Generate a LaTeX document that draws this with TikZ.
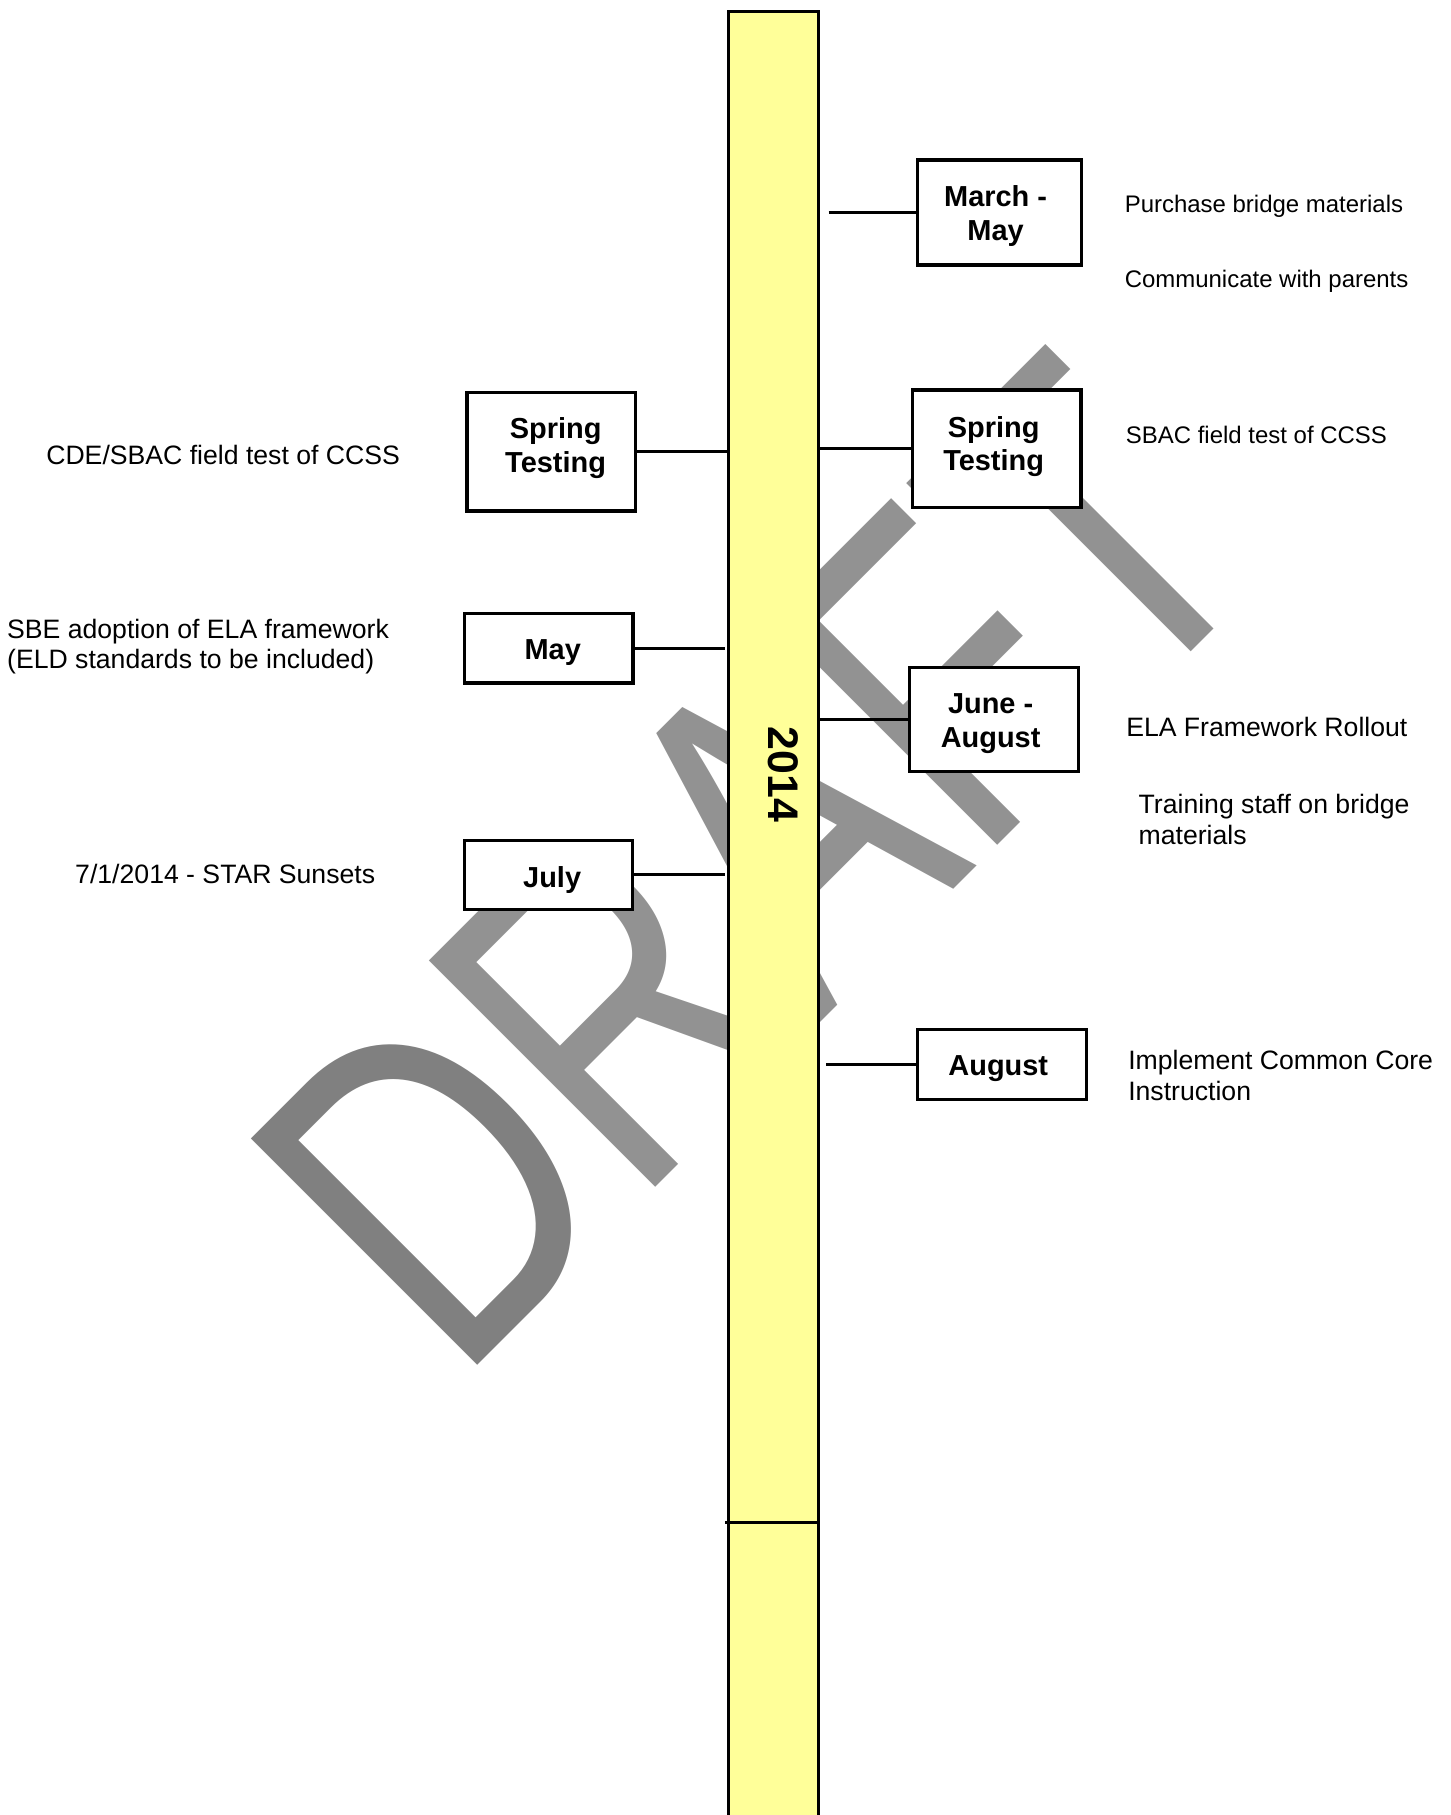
\documentclass[tikz,border=0pt]{standalone}
\usepackage{fontspec}
\setmainfont{Liberation Sans}
\definecolor{baryellow}{HTML}{FFFF99}
\definecolor{wmdark}{HTML}{808080}
\definecolor{wmlight}{HTML}{929292}
\begin{document}
\begin{tikzpicture}[x=1pt,y=-1pt,
  boxst/.style={draw=black, line width=2.9pt, fill=white, inner sep=0pt},
  barst/.style={draw=black, line width=2.6pt, fill=baryellow, inner sep=0pt, outer sep=0pt},
  conn/.style={draw=black, line width=2.6pt},
  lbl/.style={inner sep=0pt, anchor=base, font=\fontsize{25}{29.2}\selectfont\bfseries},
  txt/.style={inner sep=0pt, anchor=base west, font=\fontsize{23}{26.4}\selectfont},
  txts/.style={inner sep=0pt, anchor=base west, font=\fontsize{20.7}{24}\selectfont},
]
\useasboundingbox (0,0) rectangle (1252.7,1568);

% watermark
\node[inner sep=0pt, anchor=base west, rotate=45, font=\fontsize{402}{402}\selectfont] (wm) at (395.3,1196.7)
  {\scalebox{0.748}[1]{\textcolor{wmdark}{D}\textcolor{wmlight}{RAFT}}};

% timeline bar
\node[barst, anchor=north west, minimum width=77.5pt, minimum height=1620pt] (bar) at (629.3,10) {};
\node[inner sep=0pt, rotate=-90, font=\fontsize{37}{37}\selectfont\bfseries] (yr) at (676.4,669.1) {2014};
\coordinate (divL) at (626.5,1314.9);
\coordinate (divR) at (708.6,1314.9);
\draw[conn] (divL) -- (divR);

% boxes
\node[boxst, minimum width=141.4pt, minimum height=90.8pt]  (mm)  at (863.55,183.65) {};
\node[boxst, minimum width=145.4pt, minimum height=101.5pt] (rst) at (861.25,387.8) {};
\node[boxst, minimum width=145.5pt, minimum height=102.2pt] (lst) at (476.1,390.25) {};
\node[boxst, minimum width=145.7pt, minimum height=59.8pt]  (may) at (473.9,560.05) {};
\node[boxst, minimum width=146pt,   minimum height=89.6pt]  (ja)  at (858.95,621.55) {};
\node[boxst, minimum width=145.5pt, minimum height=59.6pt]  (jul) at (473.8,755.85) {};
\node[boxst, minimum width=145.8pt, minimum height=60.5pt]  (aug) at (865.75,919.6) {};

% box labels
\node[lbl] (mmt)  at (860.1,178.6) {\begin{tabular}[t]{@{}c@{}}March -\\May\end{tabular}};
\node[lbl] (rstt) at (858.4,377.6) {\begin{tabular}[t]{@{}c@{}}Spring\\Testing\end{tabular}};
\node[lbl] (lstt) at (480.0,379.0) {\begin{tabular}[t]{@{}c@{}}Spring\\Testing\end{tabular}};
\node[lbl] (mayt) at (477.5,569.9) {May};
\node[lbl] (jat)  at (855.8,616.5) {\begin{tabular}[t]{@{}c@{}}June -\\August\end{tabular}};
\node[lbl] (jult) at (477.0,766.3) {July};
\node[lbl] (augt) at (862.4,929.1) {August};

% connectors
\coordinate (c1) at (715.8,183.65);
\coordinate (c4) at (626.6,560.05);
\coordinate (c6) at (626.6,755.85);
\coordinate (c7) at (713.9,919.6);
\draw[conn] (c1) -- (mm.west);
\draw[conn] (bar.east |- rst.west) -- (rst.west);
\draw[conn] (lst.east) -- (bar.west |- lst.east);
\draw[conn] (may.east) -- (c4);
\draw[conn] (bar.east |- ja.west) -- (ja.west);
\draw[conn] (jul.east) -- (c6);
\draw[conn] (c7) -- (aug.west);

% descriptions right
\node[txts] (d1) at (971.5,183.8) {Purchase bridge materials};
\node[txts] (d2) at (971.5,248.3) {Communicate with parents};
\node[txts] (d3) at (972.5,382.8) {SBAC field test of CCSS};
\node[txt]  (d4) at (972.8,636.3) {ELA Framework Rollout};
\node[txt]  (d5) at (983.5,702.9) {\begin{tabular}[t]{@{}l@{}}Training staff on bridge\\materials\end{tabular}};
\node[txt]  (d6) at (974.5,924.3) {\begin{tabular}[t]{@{}l@{}}Implement Common Core\\Instruction\end{tabular}};

% descriptions left
\node[txt] (e1) at (39.8,401.7) {CDE/SBAC field test of CCSS};
\node[txt] (e2) at (6.0,551.2) {\begin{tabular}[t]{@{}l@{}}SBE adoption of ELA framework\\(ELD standards to be included)\end{tabular}};
\node[txt] (e3) at (64.8,762.9) {7/1/2014 - STAR Sunsets};
\end{tikzpicture}
\end{document}
